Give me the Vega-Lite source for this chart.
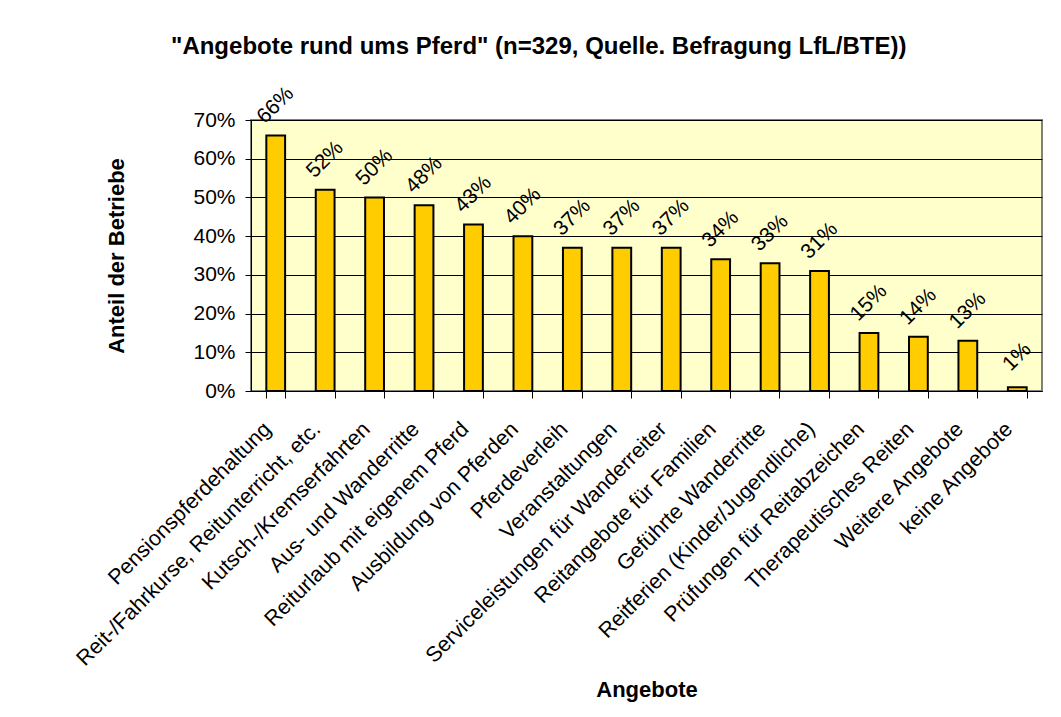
{
  "$schema": "https://vega.github.io/schema/vega-lite/v6.json",
  "autosize": "none",
  "width": 791,
  "height": 271,
  "padding": {"left": 251, "top": 120, "right": 19, "bottom": 326},
  "background": "white",
  "config": {
    "font": "Liberation Sans",
    "view": {"fill": "#FFFFCC", "stroke": "#808080", "strokeWidth": 2}
  },
  "title": {
    "text": "\"Angebote rund ums Pferd\" (n=329, Quelle. Befragung LfL/BTE))",
    "anchor": "start",
    "frame": "group",
    "dx": -80,
    "offset": 5,
    "baseline": "alphabetic",
    "fontSize": 24,
    "fontWeight": "bold",
    "font": "Liberation Sans",
    "color": "black"
  },
  "data": {
    "values": [
      {"Angebot": "Pensionspferdehaltung", "Anteil": 0.66},
      {"Angebot": "Reit-/Fahrkurse, Reitunterricht, etc.", "Anteil": 0.52},
      {"Angebot": "Kutsch-/Kremserfahrten", "Anteil": 0.50},
      {"Angebot": "Aus- und Wanderritte", "Anteil": 0.48},
      {"Angebot": "Reiturlaub mit eigenem Pferd", "Anteil": 0.43},
      {"Angebot": "Ausbildung von Pferden", "Anteil": 0.40},
      {"Angebot": "Pferdeverleih", "Anteil": 0.37},
      {"Angebot": "Veranstaltungen", "Anteil": 0.37},
      {"Angebot": "Serviceleistungen für Wanderreiter", "Anteil": 0.37},
      {"Angebot": "Reitangebote für Familien", "Anteil": 0.34},
      {"Angebot": "Geführte Wanderritte", "Anteil": 0.33},
      {"Angebot": "Reitferien (Kinder/Jugendliche)", "Anteil": 0.31},
      {"Angebot": "Prüfungen für Reitabzeichen", "Anteil": 0.15},
      {"Angebot": "Therapeutisches Reiten", "Anteil": 0.14},
      {"Angebot": "Weitere Angebote", "Anteil": 0.13},
      {"Angebot": "keine Angebote", "Anteil": 0.01}
    ]
  },
  "encoding": {
    "x": {
      "field": "Angebot",
      "type": "nominal",
      "sort": null,
      "scale": {"paddingInner": 0.62, "paddingOuter": 0.31},
      "axis": {
        "title": "Angebote",
        "titleFontSize": 22,
        "titleFontWeight": "bold",
        "titleColor": "black",
        "titleX": 395.5,
        "titleY": 305,
        "titleBaseline": "alphabetic",
        "titleAlign": "center",
        "labelAngle": -45,
        "labelAlign": "right",
        "labelBaseline": "alphabetic",
        "labelFontSize": 21.5,
        "labelPadding": 32,
        "labelOffset": -4,
        "labelColor": "black",
        "labelLimit": 1000,
        "labelOverlap": false,
        "tickBand": "extent",
        "tickSize": 7,
        "tickColor": "black",
        "domainColor": "black",
        "grid": false
      }
    },
    "y": {
      "field": "Anteil",
      "type": "quantitative",
      "scale": {"domain": [0, 0.7], "nice": false},
      "axis": {
        "title": "Anteil der Betriebe",
        "titleFontSize": 22,
        "titleFontWeight": "bold",
        "titleColor": "black",
        "titleAngle": -90,
        "titleX": -128,
        "titleY": 135.5,
        "titleBaseline": "alphabetic",
        "titleAlign": "center",
        "values": [0, 0.1, 0.2, 0.3, 0.4, 0.5, 0.6, 0.7],
        "format": ".0%",
        "labelFontSize": 21,
        "labelPadding": 10,
        "labelColor": "black",
        "tickSize": 6,
        "tickColor": "black",
        "domainColor": "black",
        "grid": true,
        "gridColor": "black",
        "gridWidth": 1
      }
    }
  },
  "layer": [
    {"mark": {"type": "bar", "fill": "#FFCC00", "stroke": "black", "strokeWidth": 2}},
    {
      "mark": {"type": "text", "angle": -45, "align": "center", "baseline": "middle", "yOffset": -30, "fontSize": 21, "font": "Liberation Sans", "color": "black"},
      "encoding": {"text": {"field": "Anteil", "type": "quantitative", "format": ".0%"}}
    }
  ]
}
